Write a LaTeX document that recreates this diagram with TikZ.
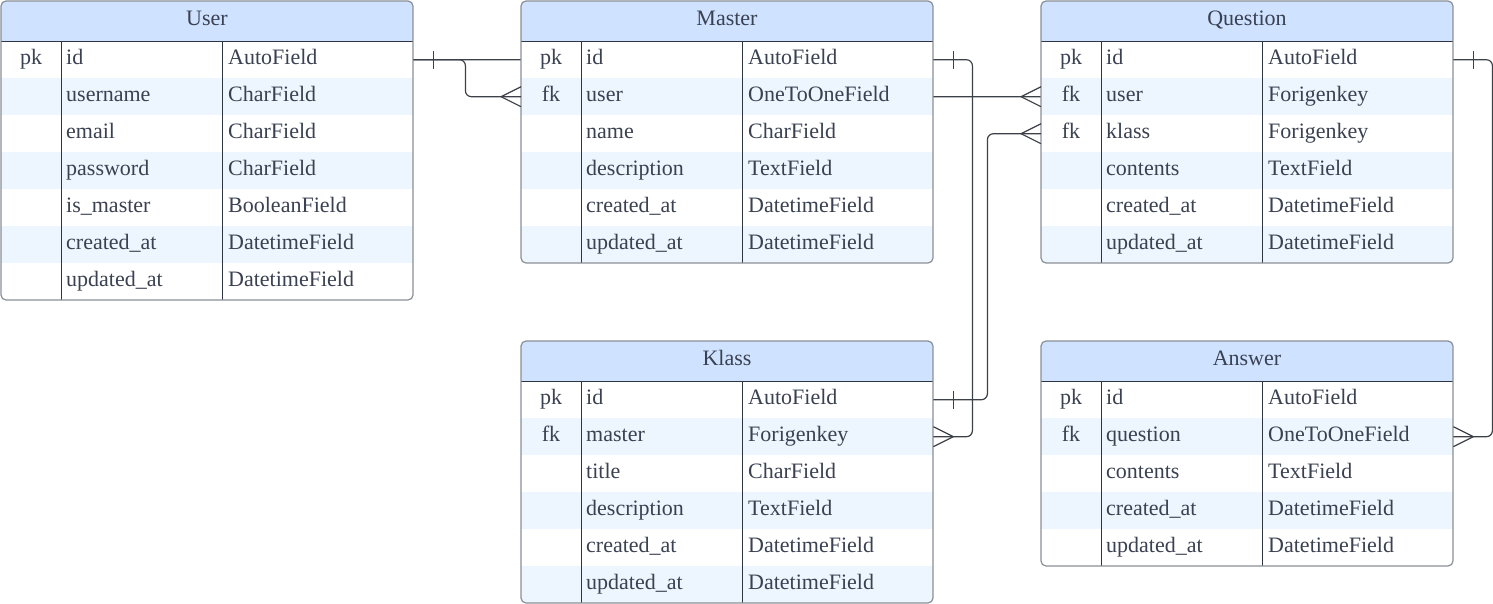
\documentclass[tikz,border=0pt]{standalone}
\usepackage{fontspec}
\setmainfont{Liberation Serif}
\usetikzlibrary{calc,backgrounds}
\definecolor{hdrcol}{HTML}{CFE2FF}
\definecolor{rowalt}{HTML}{EDF5FF}
\definecolor{bordercol}{HTML}{8A8F96}
\definecolor{innercol}{HTML}{2E3440}
\definecolor{txtcol}{HTML}{3A4150}
\definecolor{conncol}{HTML}{3C4048}
\tikzset{
  hdr/.style={rectangle,anchor=north west,minimum width=412pt,minimum height=40pt,inner sep=0pt,fill=hdrcol,draw=none},
  rowbox/.style={rectangle,anchor=north west,minimum width=412pt,minimum height=37pt,inner sep=0pt,draw=none},
  celltxt/.style={inner sep=0pt,text=txtcol,font=\fontsize{22}{26}\selectfont},
  innerline/.style={draw=innercol,line width=1pt},
  outerline/.style={draw=bordercol,line width=1.2pt,rounded corners=5pt},
  conn/.style={draw=conncol,line width=1.2pt},
}
% #1 name, #2 x, #3 y, #4 title, #5 number of rows, #6 rows
\newcommand\ertable[6]{%
  \begin{scope}[shift={(#2,#3)}]
    \begin{scope}
      \clip[rounded corners=5pt] (0,0) rectangle (412,{40+37*#5});
      \node[hdr] (#1-h) at (0,0) {};
      \foreach \k/\n/\t [count=\i] in {#6} {
        \pgfmathsetmacro\yy{40+37*(\i-1)}
        \ifodd\i \def\rf{white}\else\def\rf{rowalt}\fi
        \node[rowbox,fill=\rf] (#1-r\i) at (0,\yy) {};
        \node[celltxt,anchor=mid] (#1-k\i) at (30,\yy+21) {\k};
        \node[celltxt,anchor=mid west] (#1-n\i) at (65,\yy+21) {\n};
        \node[celltxt,anchor=mid west] (#1-t\i) at (227,\yy+21) {\t};
      }
    \end{scope}
    \node[celltxt,anchor=mid] (#1-title) at (206,22.5) {#4};
    \draw[innerline] (0,40) -- (412,40);
    \draw[innerline] (60,40) -- (60,{40+37*#5});
    \draw[innerline] (221,40) -- (221,{40+37*#5});
    \draw[outerline] (0,0) rectangle (412,{40+37*#5});
  \end{scope}}
% crow's foot at #1; #2 = -1 when line comes from the left, +1 from the right
\newcommand\crowfoot[2]{%
  \draw[conn] ($(#1)+(#2*20,0)$) -- ($(#1)+(0,-10)$)
              ($(#1)+(#2*20,0)$) -- ($(#1)+(0,10)$);}
% one-bar at distance 20 from #1; #2 = direction (+1 right)
\newcommand\onebar[2]{%
  \draw[conn] ($(#1)+(#2*20,-9)$) -- ($(#1)+(#2*20,9)$);}
\begin{document}
\begin{tikzpicture}[x=1pt,y=-1pt]
\useasboundingbox (0,0) rectangle (1493,603);

\ertable{user}{1}{1}{User}{7}{pk/id/AutoField,{}/username/CharField,{}/email/CharField,{}/password/CharField,{}/is\_master/BooleanField,{}/created\_at/DatetimeField,{}/updated\_at/DatetimeField}
\ertable{master}{521}{1}{Master}{6}{pk/id/AutoField,fk/user/OneToOneField,{}/name/CharField,{}/description/TextField,{}/created\_at/DatetimeField,{}/updated\_at/DatetimeField}
\ertable{question}{1041}{1}{Question}{6}{pk/id/AutoField,fk/user/Forigenkey,fk/klass/Forigenkey,{}/contents/TextField,{}/created\_at/DatetimeField,{}/updated\_at/DatetimeField}
\ertable{klass}{521}{341}{Klass}{6}{pk/id/AutoField,fk/master/Forigenkey,{}/title/CharField,{}/description/TextField,{}/created\_at/DatetimeField,{}/updated\_at/DatetimeField}
\ertable{answer}{1041}{341}{Answer}{5}{pk/id/AutoField,fk/question/OneToOneField,{}/contents/TextField,{}/created\_at/DatetimeField,{}/updated\_at/DatetimeField}

\begin{scope}[on background layer]
  % User.id -> Question.user (passes behind Master)
  \draw[conn,rounded corners=6pt] (user-r1.east) -- ++(200,0) |- (question-r2.west);
\end{scope}
% User.id -> Master.user
\draw[conn,rounded corners=6pt] (user-r1.east) -- ++(52,0) |- (master-r2.west);
\onebar{user-r1.east}{1}
\crowfoot{master-r2.west}{-1}
\crowfoot{question-r2.west}{-1}
% Master.id -> Klass.master
\draw[conn,rounded corners=6pt] (master-r1.east) -- ++(39,0) |- (klass-r2.east);
\onebar{master-r1.east}{1}
\crowfoot{klass-r2.east}{1}
% Klass.id -> Question.klass
\draw[conn,rounded corners=6pt] (klass-r1.east) -- ++(54,0) |- (question-r3.west);
\onebar{klass-r1.east}{1}
\crowfoot{question-r3.west}{-1}
% Question.id -> Answer.question
\draw[conn,rounded corners=6pt] (question-r1.east) -- ++(39,0) |- (answer-r2.east);
\onebar{question-r1.east}{1}
\crowfoot{answer-r2.east}{1}
\end{tikzpicture}
\end{document}
